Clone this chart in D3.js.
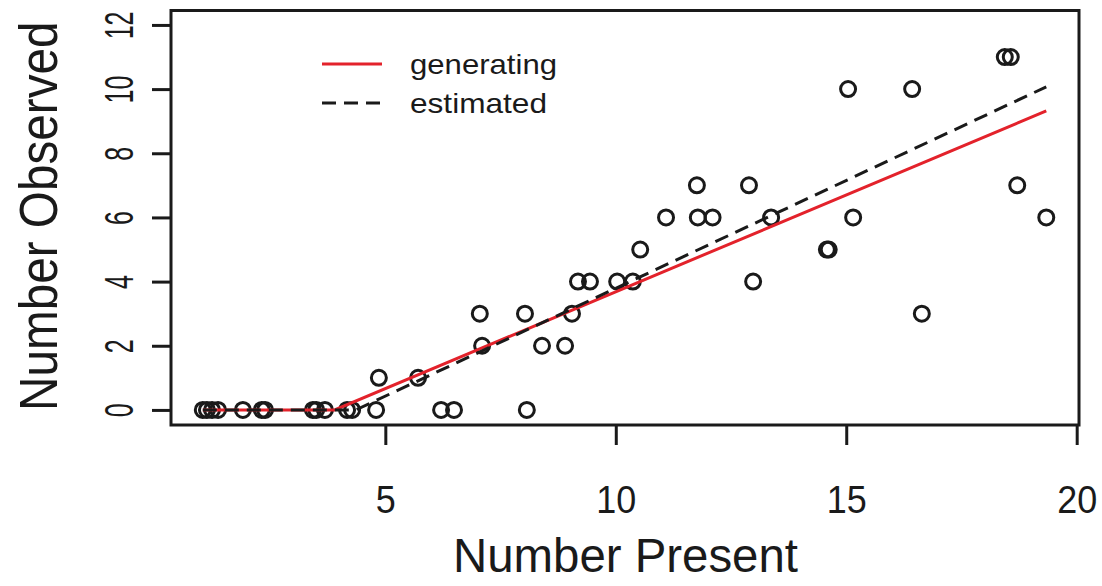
<!DOCTYPE html>
<html>
  <head>
    <title>Number Observed vs Number Present</title>
    <script src="https://d3js.org/d3.v7.min.js"></script>
    <style>
      body { margin: 0; background: #fff; }
      svg { font-family: "Liberation Sans", Arial, sans-serif; }
      .axis .tick line { stroke: #1a1a1a; stroke-width: 3px; }
      .axis .tick text { fill: #1a1a1a; }
      .axis .domain { display: none; }
    </style>
  </head>
  <body>
    <svg width="1102" height="586"></svg>
    <script>
      // observations (Number Present, Number Observed)
      const presentVals = [
        1.04, 1.13, 1.24, 1.37, 1.91, 2.32, 2.39, 3.43, 3.50, 3.69, 4.17, 4.28, 4.80, 6.21, 6.49, 8.07,
        4.86, 5.71,
        7.10, 8.40, 8.90,
        7.05, 8.03, 9.05, 16.64,
        9.18, 9.44, 10.03, 10.37, 12.98,
        10.53, 14.58, 14.62,
        11.09, 11.78, 12.10, 13.37, 15.15, 19.34,
        11.76, 12.89, 18.71,
        15.04, 16.43,
        18.44, 18.57
      ];
      const observedVals = [
        0, 0, 0, 0, 0, 0, 0, 0, 0, 0, 0, 0, 0, 0, 0, 0,
        1, 1,
        2, 2, 2,
        3, 3, 3, 3,
        4, 4, 4, 4, 4,
        5, 5, 5,
        6, 6, 6, 6, 6, 6,
        7, 7, 7,
        10, 10,
        11, 11
      ];

      // fitted curves
      const generatingX = [1.04, 3.9, 19.34];
      const generatingY = [0, 0, 9.32];
      const estimatedX = [1.04, 4.36, 19.34];
      const estimatedY = [0, 0, 10.07];

      const xTicks = [5, 10, 15, 20];
      const yTicks = [0, 2, 4, 6, 8, 10, 12];

      const svg = d3.select("svg");
      const box = {left: 171, right: 1079, top: 10.5, bottom: 425};

      const xScale = d3.scaleLinear().domain([0.35, 20.05]).range([box.left, box.right]);
      const yScale = d3.scaleLinear().domain([-0.47, 12.45]).range([box.bottom, box.top]);

      const xAxis = d3.axisBottom(xScale)
        .tickValues(xTicks)
        .tickSize(20)
        .tickSizeOuter(0)
        .tickPadding(55);
      const yAxis = d3.axisLeft(yScale)
        .tickValues(yTicks)
        .tickSize(19)
        .tickSizeOuter(0);

      svg.append("g")
          .attr("class", "axis")
          .attr("transform", `translate(0, ${box.bottom})`)
          .call(xAxis)
        .selectAll(".tick text")
          .attr("font-size", 38)
          .attr("dy", "0.35em")
          .attr("textLength", d => d >= 10 ? 40 : 20)
          .attr("lengthAdjust", "spacingAndGlyphs");

      // y labels are drawn rotated and squeezed along their length, as in the original
      const yAxisG = svg.append("g")
          .attr("class", "axis")
          .attr("transform", `translate(${box.left}, 0)`)
          .call(yAxis);
      yAxisG.selectAll(".tick text")
          .attr("x", null)
          .attr("dy", "0.35em")
          .attr("font-size", 25)
          .attr("text-anchor", "middle")
          .attr("transform", "translate(-52, 0) rotate(-90) scale(1, 1.64)");

      // points
      const pts = d3.zip(presentVals, observedVals);
      svg.append("g")
        .selectAll("circle")
        .data(pts)
        .join("circle")
          .attr("cx", d => xScale(d[0]))
          .attr("cy", d => yScale(d[1]))
          .attr("r", 7.5)
          .attr("fill", "none")
          .attr("stroke", "#1a1a1a")
          .attr("stroke-width", 3);

      const line = d3.line().x(d => xScale(d[0])).y(d => yScale(d[1]));
      svg.append("path")
          .attr("d", line(d3.zip(generatingX, generatingY)))
          .attr("fill", "none")
          .attr("stroke", "#e3222b")
          .attr("stroke-width", 3);
      svg.append("path")
          .attr("d", line(d3.zip(estimatedX, estimatedY)))
          .attr("fill", "none")
          .attr("stroke", "#1a1a1a")
          .attr("stroke-width", 3)
          .attr("stroke-dasharray", "14,8");

      // frame
      svg.append("rect")
          .attr("x", box.left)
          .attr("y", box.top)
          .attr("width", box.right - box.left)
          .attr("height", box.bottom - box.top)
          .attr("fill", "none")
          .attr("stroke", "#1a1a1a")
          .attr("stroke-width", 3);

      // legend
      const legend = svg.append("g");
      legend.append("line")
          .attr("x1", 322).attr("x2", 382).attr("y1", 64).attr("y2", 64)
          .attr("stroke", "#e3222b").attr("stroke-width", 3);
      legend.append("line")
          .attr("x1", 322).attr("x2", 382).attr("y1", 103).attr("y2", 103)
          .attr("stroke", "#1a1a1a").attr("stroke-width", 3)
          .attr("stroke-dasharray", "14,8");
      legend.append("text")
          .attr("x", 410).attr("y", 74)
          .attr("font-size", 28)
          .attr("textLength", 147).attr("lengthAdjust", "spacingAndGlyphs")
          .attr("fill", "#1a1a1a")
          .text("generating");
      legend.append("text")
          .attr("x", 410).attr("y", 113)
          .attr("font-size", 28)
          .attr("textLength", 137).attr("lengthAdjust", "spacingAndGlyphs")
          .attr("fill", "#1a1a1a")
          .text("estimated");

      // axis titles
      svg.append("text")
          .attr("x", 453).attr("y", 572)
          .attr("font-size", 48)
          .attr("textLength", 345).attr("lengthAdjust", "spacingAndGlyphs")
          .attr("fill", "#1a1a1a")
          .text("Number Present");
      svg.append("text")
          .attr("transform", "translate(57, 411) rotate(-90) scale(1, 1.11)")
          .attr("font-size", 47.7)
          .attr("fill", "#1a1a1a")
          .text("Number Observed");
    </script>
  </body>
</html>
